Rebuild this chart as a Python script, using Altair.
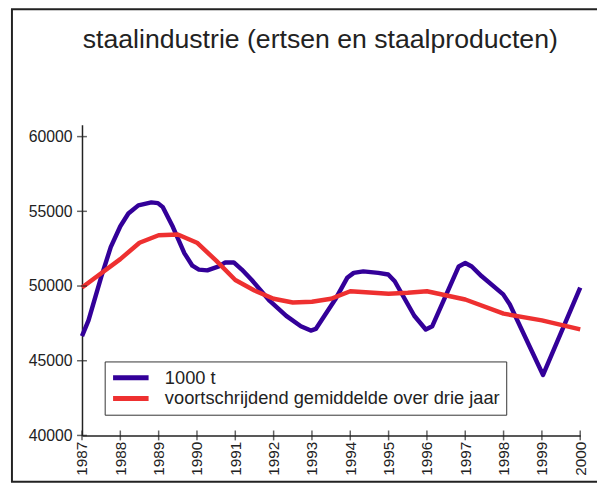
import altair as alt
import pandas as pd

# Blue series: 1000 t (vertices)
blue_years = [1987.00, 1987.17, 1987.5, 1987.75, 1988.0, 1988.21, 1988.47, 1988.81, 1988.98,
              1989.11, 1989.37, 1989.67, 1989.88, 1990.05, 1990.27, 1990.57, 1990.74, 1990.96,
              1991.17, 1991.43, 1991.9, 1992.33, 1992.71, 1992.97, 1993.1, 1993.61, 1993.92,
              1994.09, 1994.34, 1994.73, 1994.99, 1995.16, 1995.67, 1995.97, 1996.14, 1996.83,
              1997.0, 1997.17, 1997.43, 1997.99, 1998.16, 1999.03, 2000.0]
blue_values = [46650, 47700, 50600, 52600, 54000, 54850, 55400, 55600, 55550,
               55280, 53960, 52200, 51360, 51100, 51050, 51310, 51580, 51580,
               51100, 50400, 49000, 48000, 47310, 47020, 47130, 49110, 50550,
               50880, 50980, 50880, 50770, 50320, 48010, 47090, 47310, 51310,
               51540, 51310, 50650, 49440, 48780, 44050, 49890]

# Red series: three-year moving average
red_years = [1987.0, 1988.0, 1988.5, 1989.0, 1989.5, 1990.0, 1990.5, 1991.0, 1991.5, 1992.0,
             1992.5, 1993.0, 1993.5, 1994.0, 1995.0, 1995.5, 1996.0, 1997.0, 1998.0, 1999.0, 2000.0]
red_values = [49900, 51800, 52900, 53400, 53450, 52900, 51700, 50400, 49700, 49150,
              48900, 48950, 49150, 49650, 49480, 49550, 49650, 49100, 48150, 47700, 47100]

series_names = ["1000 t", "voortschrijdend gemiddelde over drie jaar"]
series_colors = ["#330099", "#ee3030"]

x_ticks = list(range(1987, 2001))
y_ticks = [40000, 45000, 50000, 55000, 60000]

title_text = "staalindustrie (ertsen en staalproducten)"

df = pd.concat([
    pd.DataFrame({"jaar": blue_years, "waarde": blue_values, "reeks": series_names[0], "o": range(len(blue_years))}),
    pd.DataFrame({"jaar": red_years, "waarde": red_values, "reeks": series_names[1], "o": range(len(red_years))}),
])

FONT = "Liberation Sans"

xscale = alt.Scale(domain=[1987, 2000], nice=False, zero=False)
yscale = alt.Scale(domain=[40000, 60800], nice=False, zero=False)

x_axis = alt.Axis(values=x_ticks, format="d", labelAngle=-90, labelAlign="right",
                  labelBaseline="middle", labelFontSize=15.5, labelPadding=6,
                  labelOverlap=False, labelBound=False, labelFlush=False,
                  ticks=False, title=None, grid=False, domainColor="#222",
                  domainWidth=1.5, labelColor="#222", labelFont=FONT)
y_axis = alt.Axis(values=y_ticks, format="d", labelFontSize=16, labelPadding=10,
                  labelOverlap=False, labelFlush=False,
                  ticks=False, title=None, grid=False, domainColor="#222",
                  domainWidth=1.5, labelColor="#222", labelFont=FONT)

lines = alt.Chart(df).mark_line(strokeWidth=4.5, strokeJoin="round").encode(
    x=alt.X("jaar:Q", scale=xscale, axis=x_axis),
    y=alt.Y("waarde:Q", scale=yscale, axis=y_axis),
    color=alt.Color("reeks:N",
                    scale=alt.Scale(domain=series_names, range=series_colors),
                    legend=alt.Legend(title=None, orient="none", legendX=23, legendY=240,
                                      direction="vertical", symbolType="stroke",
                                      symbolSize=1296, symbolStrokeWidth=5,
                                      clipHeight=21,
                                      labelFontSize=18.5, labelFont=FONT, labelColor="#222",
                                      labelLimit=600, labelOffset=14,
                                      strokeColor="#333", padding=6, rowPadding=0,
                                      fillColor="white")),
    order="o:Q",
)

xtick_df = pd.DataFrame({"t": x_ticks})
ytick_df = pd.DataFrame({"t": y_ticks})

xticks = alt.Chart(xtick_df).mark_tick(orient="vertical", size=10, thickness=1.5, color="#222").encode(
    x=alt.X("t:Q", scale=xscale, axis=x_axis), y=alt.datum(40000, scale=yscale, axis=y_axis))
yticks = alt.Chart(ytick_df).mark_tick(orient="horizontal", size=10, thickness=1.5, color="#222").encode(
    y=alt.Y("t:Q", scale=yscale, axis=y_axis), x=alt.datum(1987, scale=xscale, axis=x_axis))

frame = alt.Chart(pd.DataFrame({"a": [0]})).mark_rect(
    fill=None, stroke="#222", strokeWidth=2).encode(
    x=alt.value(-71), x2=alt.value(540), y=alt.value(-117), y2=alt.value(362))

chart = alt.layer(frame, lines, xticks, yticks).properties(
    width=505, height=315,
    title=alt.TitleParams(title_text, fontSize=27, font=FONT, fontWeight="normal",
                          color="#222", anchor="middle", dx=-11, offset=-67,
                          frame="group", baseline="alphabetic"),
    autosize=alt.AutoSizeParams(type="none"),
    padding={"left": 75, "top": 115, "right": 17, "bottom": 48},
).configure_view(stroke=None)

chart.save("out.html", embed_options={"renderer": "svg", "actions": False})
